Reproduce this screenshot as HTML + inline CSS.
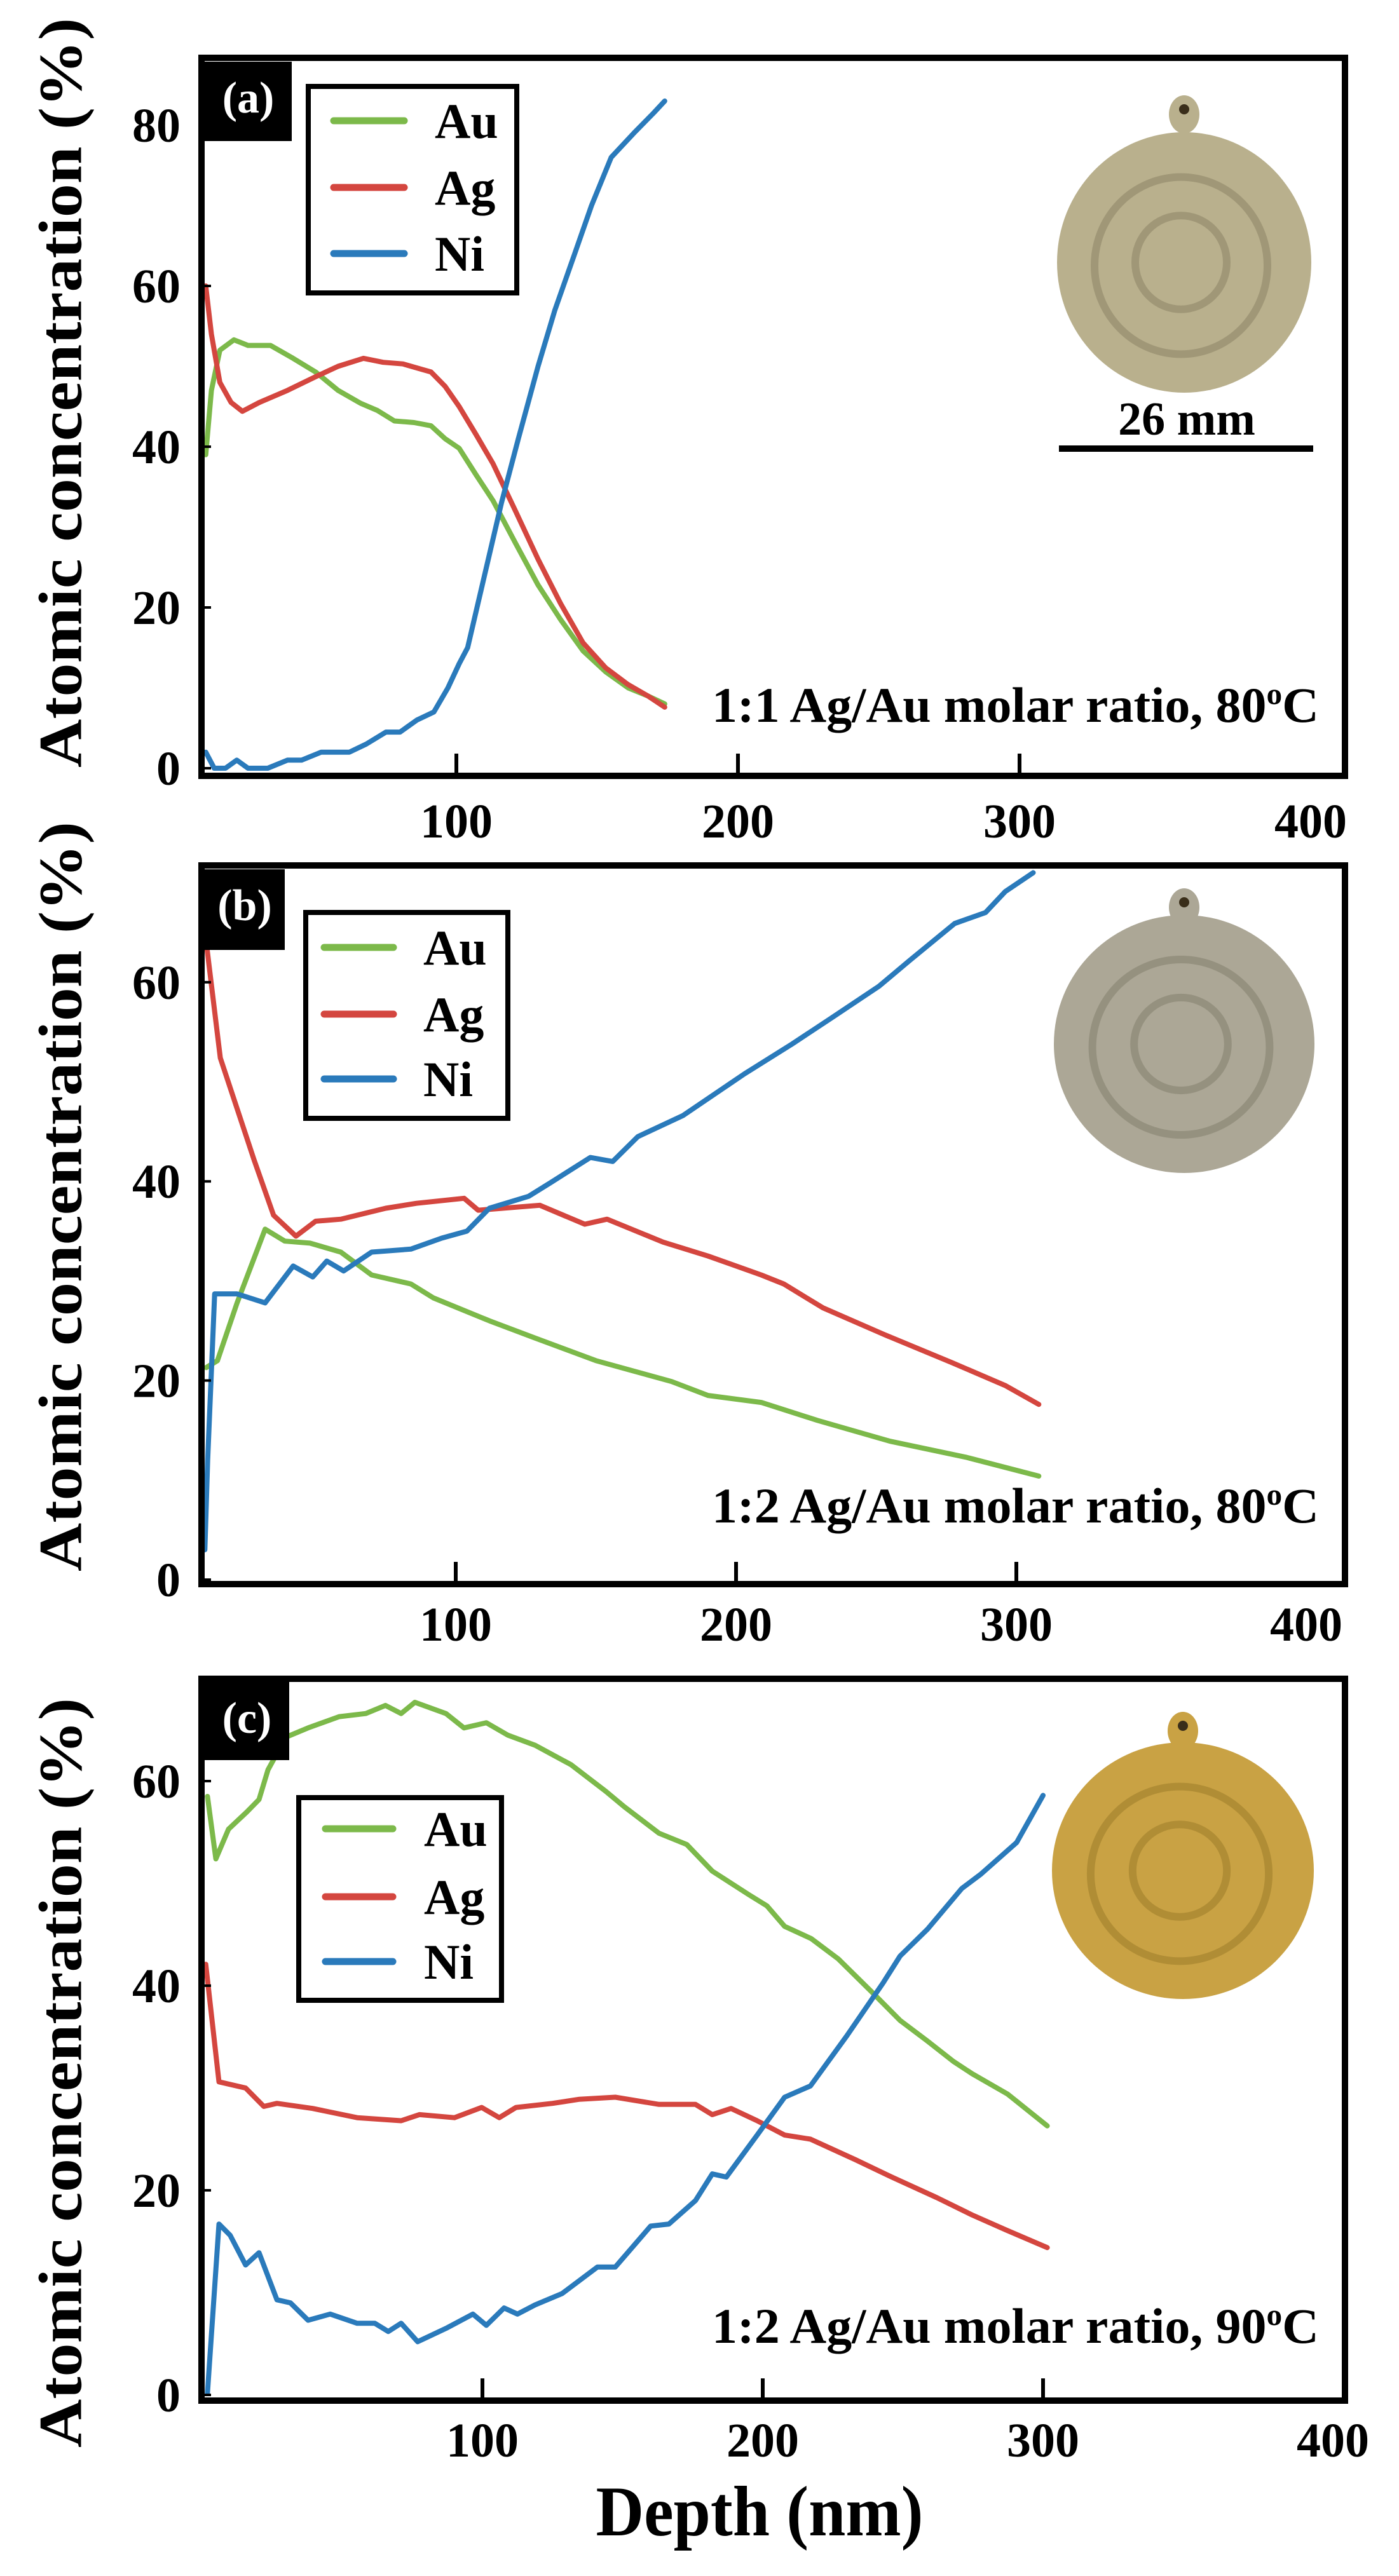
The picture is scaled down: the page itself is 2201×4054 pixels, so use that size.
<!DOCTYPE html>
<html><head><meta charset="utf-8"><style>
html,body{margin:0;padding:0;background:#fff;}
svg{display:block;}
text{font-family:"Liberation Serif",serif;font-weight:bold;}
</style></head><body>
<svg id="fig" width="2201" height="4054" viewBox="0 0 2201 4054" xmlns="http://www.w3.org/2000/svg">
<g id="root"></g>
</svg>
<script>
// ---------- data ----------
const xTicks = [100, 200, 300, 400];
const aYTicks = [0, 20, 40, 60, 80];
const bYTicks = [0, 20, 40, 60];
const cYTicks = [0, 20, 40, 60];
const seriesNames = ["Au", "Ag", "Ni"];

// panel (a) 1:1 Ag/Au, 80C
const aAuX = [11,13,16,21,26,34,42,50,58,66,72,78,85,91,96,101,107,113,121,129,137,145,153,161,168,174];
const aAuY = [39,47,52,53.3,52.6,52.6,51,49.3,47,45.4,44.5,43.2,43,42.6,41,39.8,36.5,33.3,28,22.8,18.5,14.6,12,10,9,8];
const aAgX = [11,13,16,20,24,30,40,50,58,67,74,81,88,91,96,101,107,113,121,129,137,145,153,161,168,174];
const aAgY = [60,54,48,45.5,44.4,45.5,47,48.7,50,51,50.5,50.3,49.6,49.3,47.5,45,41.5,37.9,32,26,20.5,15.6,12.5,10.4,9,7.6];
const aNiX = [11,14,18,22,26,33,40,45,52,62,68,75,80,86,92,97,101,104,110,116,122,129,135,142,148,155,163,170,174];
const aNiY = [2,0,0,1,0,0,1,1,2,2,3,4.5,4.5,6,7,10,13,15,24,33,41,50,57,64,70,76,79,81.5,83];

// panel (b) 1:2 Ag/Au, 80C
const bAuX = [11,15,22,32,39,48,59,70,84,92,112,128,150,177,190,209,229,255,282,308];
const bAuY = [21.3,22,27.8,35.2,34,33.8,32.9,30.6,29.7,28.3,26,24.3,22,19.9,18.5,17.8,16,13.9,12.3,10.4];
const bAgX = [11,16,28,35,43,50,59,75,86,103,108,130,146,154,174,190,209,217,231,253,277,296,308];
const bAgY = [64,52.4,42.2,36.6,34.5,36,36.2,37.3,37.8,38.3,37.1,37.6,35.7,36.2,33.9,32.5,30.6,29.7,27.3,24.6,21.8,19.5,17.6];
const bNiX = [10.5,11.5,14,22,32,42,49,54,60,70,84,95,104,112,126,134,148,156,165,181,203,220,234,251,262,278,289,296,306];
const bNiY = [3,12,28.7,28.7,27.8,31.5,30.4,32,31,32.9,33.2,34.3,35,37.3,38.5,39.9,42.4,42,44.5,46.6,50.8,53.8,56.4,59.6,62.2,65.9,67,69.1,71];

// panel (c) 1:2 Ag/Au, 90C
const cAuX = [1.9,4.9,9.4,16,20.3,23.5,29.9,37.8,48.9,58.4,65.4,71,75.9,87,93.4,101.4,109,118.8,131.6,144,150.6,163,172.9,182,195,201.5,207.8,217.3,227,239.6,249,258.7,268,274.7,287.4,301.5];
const cAuY = [58.5,52.4,55.3,57,58.2,61.1,64.3,65.2,66.3,66.6,67.4,66.6,67.7,66.6,65.2,65.7,64.5,63.5,61.6,59,57.5,54.9,53.8,51.2,48.9,47.8,45.8,44.6,42.6,39.2,36.6,34.6,32.6,31.4,29.4,26.3];
const cAgX = [1.3,6,15.5,22,26.7,39.4,55.3,71,77.5,90,99.7,106,112,125,134.6,147.4,163,176,182,188.7,198,207.8,217,233,246,262,274.6,287,301.5];
const cAgY = [42.1,30.6,30,28.2,28.5,28,27.1,26.8,27.4,27.1,28.1,27.1,28.1,28.5,28.9,29.1,28.4,28.4,27.4,28,26.8,25.4,25,23,21.3,19.3,17.6,16.1,14.4];
const cNiX = [1.9,6,10,15.5,20.3,26.7,31.5,37.8,45.7,55.3,61.6,66.4,71,76.9,87,96.6,101.4,107.7,112.5,118.8,128.4,141,147.4,160,166.5,176,182,187,198,207.8,217,230,243,249,258.7,271,277.8,290.6,300];
const cNiY = [0.2,16.7,15.6,12.7,13.9,9.3,9,7.3,7.9,7,7,6.2,7,5.2,6.5,7.9,6.8,8.5,7.9,8.8,9.9,12.5,12.5,16.5,16.7,19,21.6,21.3,25.4,29.1,30.2,35.1,40.3,42.9,45.5,49.5,50.9,54,58.6];

const colors = {Au:"#7cb94a", Ag:"#d4463f", Ni:"#2a7abb"};
const NS = "http://www.w3.org/2000/svg";
const root = document.getElementById("root");

function mk(tag, attrs, parent){
  const e = document.createElementNS(NS, tag);
  for (const k in attrs) e.setAttribute(k, attrs[k]);
  (parent||root).appendChild(e);
  return e;
}

const panels = [
  {id:"a", label:"(a)", top:86, bottom:1226, x0:275, xs:4.43, y0:1209, ys:12.65, yTicks:aYTicks,
   xLabelY:1318, titleY:618,
   lab:{x:322,y:97,w:137,h:125},
   leg:{x:481,y:132,w:336,h:333,ly:[190,295,399],lx1:525,lx2:636,tx:684},
   ratio:"1:1 Ag/Au molar ratio, 80", ratioY:1136,
   series:{Au:[aAuX,aAuY],Ag:[aAgX,aAgY],Ni:[aNiX,aNiY]},
   coin:{cx:1863,cy:413,rx:200,ry:205,tabY:172,fill:"#b9b08d",ring:"#8f8769"}, bar:true},
  {id:"b", label:"(b)", top:1357, bottom:2498, x0:276, xs:4.41, y0:2486, ys:15.67, yTicks:bYTicks,
   xLabelY:2582, titleY:1883,
   lab:{x:322,y:1368,w:126,h:127},
   leg:{x:477,y:1432,w:326,h:332,ly:[1491,1596,1698],lx1:510,lx2:619,tx:666},
   ratio:"1:2 Ag/Au molar ratio, 80", ratioY:2396,
   series:{Au:[bAuX,bAuY],Ag:[bAgX,bAgY],Ni:[bNiX,bNiY]},
   coin:{cx:1863,cy:1643,rx:205,ry:203,tabY:1420,fill:"#aca796",ring:"#86826f"}},
  {id:"c", label:"(c)", top:2637, bottom:3783, x0:318, xs:4.41, y0:3769, ys:16.1, yTicks:cYTicks,
   xLabelY:3866, titleY:3262,
   lab:{x:322,y:2647,w:133,h:123},
   leg:{x:466,y:2825,w:327,h:327,ly:[2878,2985,3087],lx1:512,lx2:618,tx:667},
   ratio:"1:2 Ag/Au molar ratio, 90", ratioY:3687,
   series:{Au:[cAuX,cAuY],Ag:[cAgX,cAgY],Ni:[cNiX,cNiY]},
   coin:{cx:1861,cy:2944,rx:206,ry:202,tabY:2716,fill:"#c9a244",ring:"#a07f2c"}}
];

panels.forEach(p => {
  const g = mk("g", {});
  
  
  const X = v => p.x0 + v * p.xs;
  const Y = v => p.y0 - v * p.ys;
  const L = 322, R = 2111, T = p.top + 10, B = p.bottom - 10;

  const tt = mk("text", {x:0, y:0, "font-size":96, "text-anchor":"middle", "dominant-baseline":"central",
    transform:"translate(95," + p.titleY + ") rotate(-90)", textLength:1180, lengthAdjust:"spacingAndGlyphs", fill:"#000"}, g);
  tt.textContent = "Atomic concentration (%)";
  
  

  const c = p.coin;
  const coin = mk("g", {}, g);
  
  
  mk("ellipse", {cx:c.cx, cy:c.tabY + 8, rx:24, ry:30, fill:c.fill}, coin);
  mk("circle", {cx:c.cx, cy:c.tabY, r:8, fill:"#3a2e1a"}, coin);
  mk("ellipse", {cx:c.cx, cy:c.cy, rx:c.rx, ry:c.ry, fill:c.fill}, coin);
  mk("ellipse", {cx:c.cx - 5, cy:c.cy + 5, rx:c.rx*0.68, ry:c.ry*0.68, fill:"none", stroke:c.ring, "stroke-width":12, opacity:0.6}, coin);
  mk("ellipse", {cx:c.cx - 5, cy:c.cy, rx:c.rx*0.36, ry:c.ry*0.36, fill:"none", stroke:c.ring, "stroke-width":12, opacity:0.6}, coin);
  if (p.bar) {
    const bar = mk("rect", {x:1666, y:701, width:400, height:10, fill:"#000"}, g);
    
    
    const bt = mk("text", {x:1867, y:684, "font-size":74, "text-anchor":"middle", fill:"#000"}, g);
    bt.textContent = "26 mm";
    
    
  }

  seriesNames.forEach(n => {
    const [xs, ys] = p.series[n];
    let d = "";
    xs.forEach((v, i) => { d += (i ? "L" : "M") + X(v).toFixed(1) + " " + Y(ys[i]).toFixed(1); });
    const line = mk("path", {d:d, fill:"none", stroke:colors[n], "stroke-width":8, "stroke-linejoin":"round", "stroke-linecap":"round"}, g);
    
    
  });

  const fr = mk("rect", {x:L - 5, y:p.top + 5, width:R - L + 10, height:p.bottom - p.top - 10, fill:"none", stroke:"#000", "stroke-width":10}, g);
  
  

  xTicks.forEach(t => {
    if (t < 400) mk("rect", {x:X(t) - 3, y:B - 30, width:6, height:30, fill:"#000"}, g);
    const lb = mk("text", {x:X(t) + (t === 400 ? 15 : 0), y:p.xLabelY, "font-size":76, "text-anchor":"middle", fill:"#000"}, g);
    lb.textContent = t;
    
    
  });
  p.yTicks.forEach(t => {
    mk("rect", {x:L, y:Y(t) - 2, width:10, height:4, fill:"#000"}, g);
    const lb = mk("text", {x:284, y:Y(t) + 26, "font-size":76, "text-anchor":"end", fill:"#000"}, g);
    lb.textContent = t;
    
    
  });

  const lab = mk("rect", {x:p.lab.x, y:p.lab.y, width:p.lab.w, height:p.lab.h, fill:"#000"}, g);
  
  
  const lt = mk("text", {x:p.lab.x + p.lab.w/2, y:p.lab.y + 80, "font-size":70, "text-anchor":"middle", fill:"#fff"}, g);
  lt.textContent = p.label;
  
  

  const lg = mk("g", {}, g);
  
  
  mk("rect", {x:p.leg.x + 4, y:p.leg.y + 4, width:p.leg.w - 8, height:p.leg.h - 8, fill:"#fff", stroke:"#000", "stroke-width":8}, lg);
  seriesNames.forEach((n, i) => {
    const e = mk("g", {}, lg);
    
    
    mk("line", {x1:p.leg.lx1, x2:p.leg.lx2, y1:p.leg.ly[i], y2:p.leg.ly[i], stroke:colors[n], "stroke-width":11, "stroke-linecap":"round"}, e);
    const t = mk("text", {x:p.leg.tx, y:p.leg.ly[i] + 27, "font-size":78, fill:"#000"}, e);
    t.textContent = n;
  });

  const rt = mk("text", {x:1120, y:p.ratioY, "font-size":78, fill:"#000", textLength:955, lengthAdjust:"spacingAndGlyphs"}, g);
  rt.textContent = p.ratio;
  const sup = mk("tspan", {"font-size":48, dy:-28}, rt);
  sup.textContent = "o";
  const cc = mk("tspan", {dy:28}, rt);
  cc.textContent = "C";
  
  
});

const xt = mk("text", {x:1195, y:3990, "font-size":112, "text-anchor":"middle", fill:"#000", textLength:515, lengthAdjust:"spacingAndGlyphs"});
xt.textContent = "Depth (nm)";


</script>
</body></html>
